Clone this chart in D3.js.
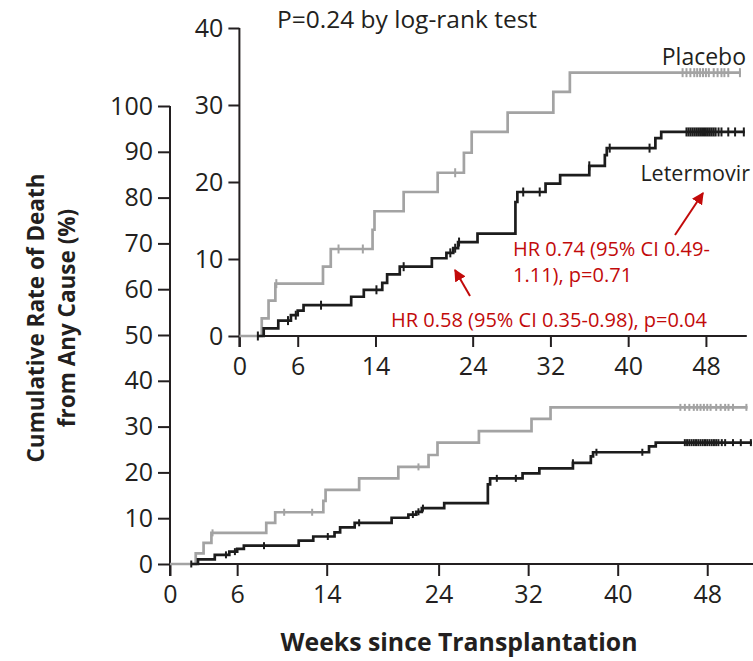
<!DOCTYPE html>
<html>
<head>
<meta charset="utf-8">
<script src="https://cdn.jsdelivr.net/npm/d3@7"></script>
<style>
  html, body { margin: 0; padding: 0; background: #fff; }
  svg { display: block; }
  text { font-family: "Open Sans", "Noto Sans", sans-serif; fill: #231f20; }
</style>
</head>
<body>
<svg id="chart" width="753" height="661"></svg>
<script>
// Kaplan-Meier style cumulative death curves: [week, cumulative %] at each step
const placeboSteps = [
  [0, 0], [2.3, 2.3], [3.0, 4.6], [3.7, 6.8], [8.6, 9.0], [9.4, 11.3],
  [13.7, 13.8], [13.9, 16.2], [16.9, 18.7], [20.4, 21.2], [23.1, 23.8],
  [23.9, 26.5], [27.6, 29.0], [32.3, 31.7], [34.0, 34.2], [51.6, 34.2]
];
const letermovirSteps = [
  [1.9, 0], [2.5, 1.0], [4.0, 2.0], [5.3, 2.7], [6.0, 3.3], [6.6, 4.0],
  [11.5, 5.1], [12.8, 6.0], [14.7, 6.9], [15.2, 8.0], [16.5, 9.0],
  [19.8, 10.1], [21.3, 10.8], [22.0, 11.4], [22.5, 12.2], [24.5, 13.3],
  [28.4, 17.4], [28.6, 18.7], [31.5, 19.8], [33.0, 20.9], [36.0, 22.1],
  [37.6, 23.5], [37.8, 24.4], [42.8, 25.7], [43.4, 26.5], [52.0, 26.5]
];
// censoring times (weeks)
const placeboCensored = [3.8, 10.2, 12.7, 22.2, 45.6, 46.0, 46.4, 46.8, 47.1, 47.4,
  47.7, 48.0, 48.3, 48.8, 49.2, 49.6, 49.9, 50.3, 51.5];
const letermovirCensored = [1.9, 5.0, 5.8, 8.4, 14.1, 16.9, 21.7, 22.2, 22.6, 29.2,
  30.9, 36.0, 38.1, 42.2, 46.0, 46.2, 46.4, 46.6, 46.8, 47.0, 47.2, 47.4, 47.6,
  47.8, 48.0, 48.2, 48.4, 48.6, 48.8, 49.0, 49.3, 49.6, 50.3, 51.0, 51.9];

const weekTicks = [0, 6, 14, 24, 32, 40, 48];
const mainYTicks = [0, 10, 20, 30, 40, 50, 60, 70, 80, 90, 100];
const insetYTicks = [0, 10, 20, 30, 40];

const svg = d3.select("#chart");
const grey = "#a3a3a3", dark = "#1c1c1c", red = "#c20a0a", ink = "#231f20";

// value at time t for a step series
function valueAt(steps, t) {
  let v = steps[0][1];
  for (const s of steps) { if (s[0] <= t) v = s[1]; }
  return v;
}

function drawPanel(g, x, y, yTicks, opts) {
  const [x0, x1] = x.range();
  const [yb, yt] = y.range();
  // axis lines
  g.append("line").attr("x1", x0).attr("x2", x0).attr("y1", yt).attr("y2", yb + opts.tick)
    .attr("stroke", ink).attr("stroke-width", 2);
  g.append("line").attr("x1", x0).attr("x2", x1 + 2).attr("y1", yb).attr("y2", yb)
    .attr("stroke", ink).attr("stroke-width", 2);

  const xAxis = d3.axisBottom(x).tickValues(weekTicks).tickSize(opts.tick)
    .tickSizeOuter(0).tickPadding(opts.xPad).tickFormat(d3.format("d"));
  const gx = g.append("g").attr("transform", `translate(0,${yb})`).call(xAxis);
  gx.select(".domain").remove();
  gx.selectAll(".tick line").attr("stroke", ink).attr("stroke-width", 2);
  gx.selectAll(".tick text").style("font-size", opts.font + "px").attr("fill", ink);

  const yAxis = d3.axisLeft(y).tickValues(yTicks).tickSize(opts.tick)
    .tickSizeOuter(0).tickPadding(opts.yPad).tickFormat(d3.format("d"));
  const gy = g.append("g").attr("transform", `translate(${x0},0)`).call(yAxis);
  gy.select(".domain").remove();
  gy.selectAll(".tick line").attr("stroke", ink).attr("stroke-width", 2);
  gy.selectAll(".tick text").style("font-size", opts.font + "px").attr("fill", ink);

  const line = d3.line().x(d => x(d[0])).y(d => y(d[1])).curve(d3.curveStepAfter);
  const series = [
    { steps: placeboSteps, cens: placeboCensored, color: grey },
    { steps: letermovirSteps, cens: letermovirCensored, color: dark }
  ];
  series.forEach(s => {
    g.append("path").datum(s.steps).attr("d", line).attr("fill", "none")
      .attr("stroke", s.color).attr("stroke-width", opts.lw).attr("stroke-linejoin", "miter");
    g.append("g").selectAll("line").data(s.cens).join("line")
      .attr("x1", d => x(d)).attr("x2", d => x(d))
      .attr("y1", d => y(valueAt(s.steps, d)) - opts.cens)
      .attr("y2", d => y(valueAt(s.steps, d)) + opts.cens)
      .attr("stroke", s.color).attr("stroke-width", 2);
  });
}

// main panel
const xMain = d3.scaleLinear().domain([0, 52]).range([170, 752]);
const yMain = d3.scaleLinear().domain([0, 100]).range([564, 106]);
drawPanel(svg.append("g"), xMain, yMain, mainYTicks,
  { tick: 12, xPad: 9, yPad: 5, font: 25, lw: 2.7, cens: 3.5 });

// inset panel
const xIn = d3.scaleLinear().domain([0, 52]).range([239.4, 744.8]);
const yIn = d3.scaleLinear().domain([0, 40]).range([336, 28]);
drawPanel(svg.append("g"), xIn, yIn, insetYTicks,
  { tick: 11, xPad: 10, yPad: 5, font: 25, lw: 2.7, cens: 4.5 });

// axis titles
svg.append("text").attr("x", 459).attr("y", 651).attr("text-anchor", "middle")
  .style("font-size", "24.8px").style("font-weight", 700).text("Weeks since Transplantation");
const yt = svg.append("text").attr("transform", "translate(0,318) rotate(-90)")
  .attr("text-anchor", "middle").style("font-size", "22.5px").style("font-weight", 700);
yt.append("tspan").attr("x", 0).attr("y", 44).text("Cumulative Rate of Death");
yt.append("tspan").attr("x", 0).attr("y", 75).text("from Any Cause (%)");

// inset labels
svg.append("text").attr("x", 277).attr("y", 28).style("font-size", "24.5px")
  .text("P=0.24 by log-rank test");
svg.append("text").attr("x", 746).attr("y", 65).attr("text-anchor", "end")
  .style("font-size", "23px").text("Placebo");
svg.append("text").attr("x", 750).attr("y", 181).attr("text-anchor", "end")
  .style("font-size", "21.5px").text("Letermovir");

// hazard ratio annotations
const redText = (x, y, t, anchor) => svg.append("text").attr("x", x).attr("y", y)
  .attr("text-anchor", anchor || "start").style("font-size", "20px")
  .style("fill", red).text(t);
redText(513, 256, "HR 0.74 (95% CI 0.49-");
redText(513, 282, "1.11), p=0.71");
redText(707, 327, "HR 0.58 (95% CI 0.35-0.98), p=0.04", "end");

svg.append("defs").append("marker").attr("id", "head")
  .attr("viewBox", "0 0 10 10").attr("refX", 9).attr("refY", 5)
  .attr("markerWidth", 6).attr("markerHeight", 6).attr("orient", "auto")
  .append("path").attr("d", "M0,0 L10,5 L0,10 Z").attr("fill", red);
svg.append("line").attr("x1", 675).attr("y1", 235).attr("x2", 703).attr("y2", 193)
  .attr("stroke", red).attr("stroke-width", 2).attr("marker-end", "url(#head)");
svg.append("line").attr("x1", 470).attr("y1", 296).attr("x2", 455).attr("y2", 270)
  .attr("stroke", red).attr("stroke-width", 2).attr("marker-end", "url(#head)");
</script>
</body>
</html>
